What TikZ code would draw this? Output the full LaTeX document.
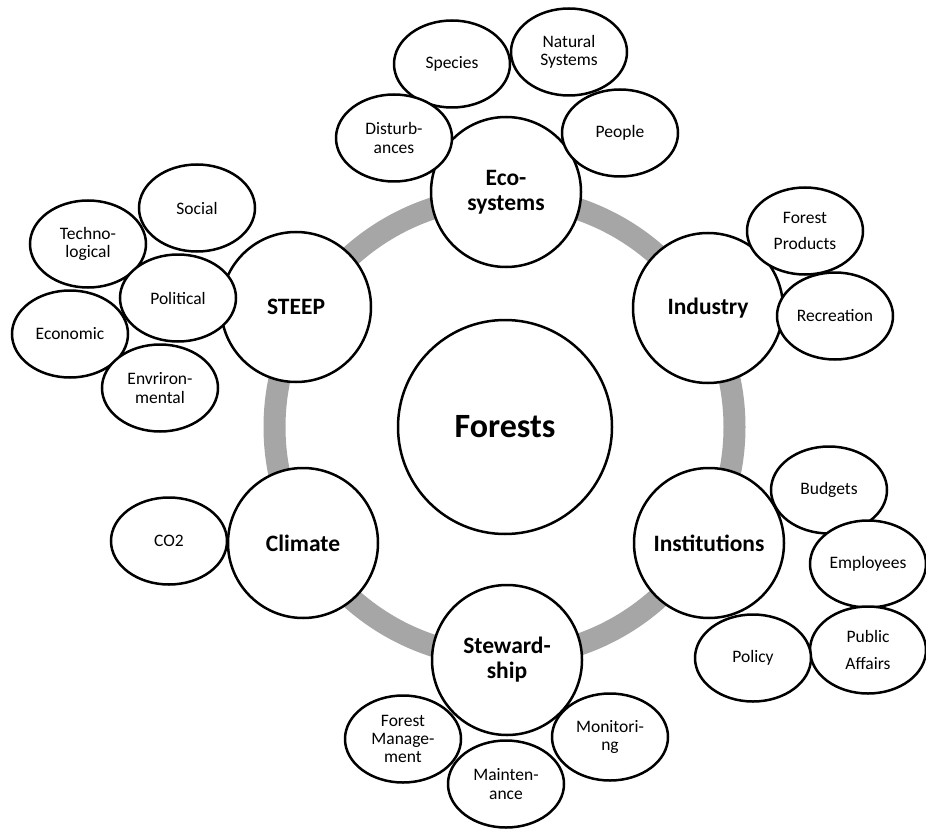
\documentclass[tikz,border=0pt]{standalone}
\usepackage{fontspec}
\setmainfont{Carlito}
\usetikzlibrary{shapes.geometric}
\definecolor{ringgray}{HTML}{A6A6A6}
\begin{document}
\begin{tikzpicture}[x=1pt,y=-1pt,
  bigc/.style={circle, draw=black, line width=2.5pt, fill=white, minimum size=150pt, inner sep=0pt, align=center, font=\fontsize{23.5}{25}\selectfont\bfseries},
  sub/.style={ellipse, draw=black, line width=2.5pt, fill=white, minimum width=116pt, minimum height=87pt, inner sep=0pt, align=center, font=\fontsize{17.5}{18.3}\selectfont},
  subloose/.style={sub, font=\fontsize{17.5}{26.7}\selectfont}]
\fill[white] (0,0) rectangle (926,829);
\useasboundingbox (0,0) rectangle (926,829);

% ring
\node[circle, draw=ringgray, line width=22pt, minimum size=460pt, inner sep=0pt] (ring) at (504.5,427) {};

% centre
\node[circle, draw=black, line width=2.5pt, fill=white, minimum size=214pt, inner sep=0pt, font=\fontsize{34}{36}\selectfont\bfseries] (forests) at (505,427) {Forests};

% main satellites
\node[bigc] (eco) at (506,192) {Eco-\\systems};
\node[bigc] (industry) at (708,308) {Industry};
\node[bigc] (inst) at (709,543) {Institutions};
\node[bigc] (stew) at (507,660) {Steward-\\ship};
\node[bigc] (climate) at (303,543) {Climate};
\node[bigc] (steep) at (296,307) {STEEP};

% Ecosystems
\node[sub] (species) at (452,64) {Species};
\node[sub] (natural) at (569,52) {Natural\\Systems};
\node[sub] (disturb) at (394,138) {Disturb-\\ances};
\node[sub] (people) at (620,133) {People};

% STEEP
\node[sub] (social) at (197,208) {Social};
\node[sub] (techno) at (88,244) {Techno-\\logical};
\node[sub] (econ) at (70,334) {Economic};
\node[sub] (envir) at (160,388) {Envriron-\\mental};
\node[sub] (polit) at (178,298) {Political};

% Industry
\node[subloose] (forprod) at (805,231) {Forest\\Products};
\node[sub] (recre) at (835,316) {Recreation};

% Institutions
\node[sub] (budgets) at (829,490) {Budgets};
\node[sub] (employ) at (868,564) {Employees};
\node[subloose] (public) at (868,650) {Public\\Affairs};
\node[sub] (policy) at (753,658) {Policy};

% Climate
\node[sub] (co2) at (169,541) {CO2};

% Stewardship
\node[sub] (formgmt) at (403,739) {Forest\\Manage-\\ment};
\node[sub] (mainten) at (506,784) {Mainten-\\ance};
\node[sub] (monitor) at (610,737) {Monitori-\\ng};
\end{tikzpicture}
\end{document}
